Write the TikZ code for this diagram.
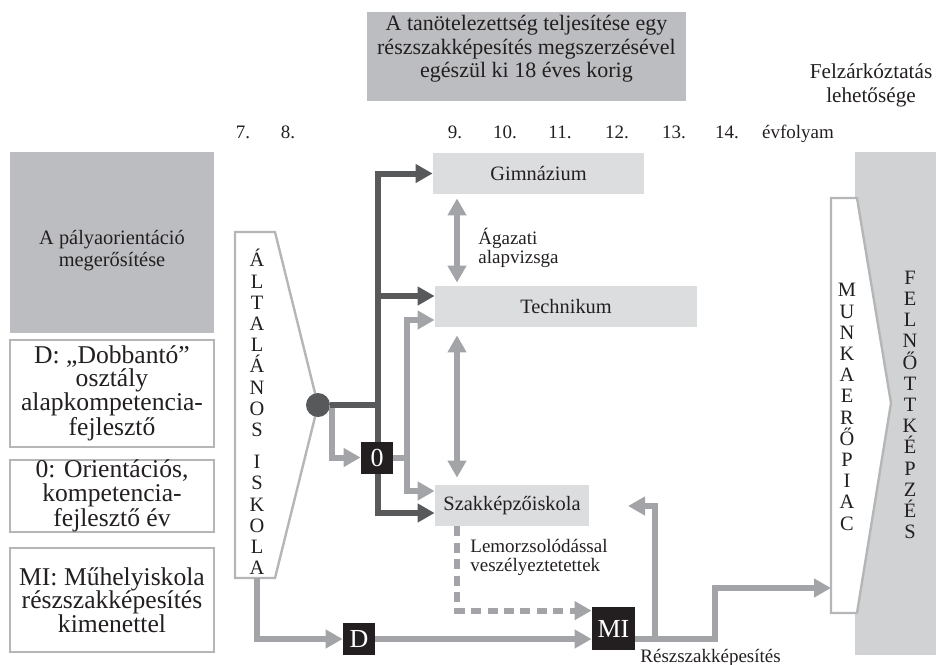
\documentclass[tikz,border=0pt]{standalone}
\usepackage{fontspec}
\setmainfont{Liberation Serif}
\usetikzlibrary{arrows.meta, positioning}

\definecolor{ink}{HTML}{231F20}
\definecolor{darkln}{HTML}{58595B}
\definecolor{lightln}{HTML}{A3A4A7}
\definecolor{boxfill}{HTML}{DCDDDF}
\definecolor{midfill}{HTML}{BCBDC0}
\definecolor{sidefill}{HTML}{D1D2D4}
\definecolor{rim}{HTML}{B5B6B8}

\begin{document}
\begin{tikzpicture}[x=0.5pt, y=-0.5pt,
    every node/.style={text=ink, font=\fontsize{10.2}{12}\selectfont},
    school/.style={fill=boxfill, minimum height=20.5pt, inner sep=0pt},
    keybox/.style={draw=rim, line width=1.2pt, fill=white, minimum width=102pt, inner sep=0pt, align=center, font=\fontsize{12.8}{11.7}\selectfont},
    blk/.style={fill=ink, text=white, inner sep=0pt, font=\fontsize{13}{13}\selectfont},
    vert/.style={align=center, inner sep=0pt, font=\fontsize{10.2}{10.6}\selectfont},
    note/.style={anchor=west, align=left, inner sep=0pt, font=\fontsize{9.5}{9.5}\selectfont},
    grade/.style={anchor=base, inner sep=0pt, font=\fontsize{9.5}{11}\selectfont},
    chevron/.style={draw=rim, line width=1.2pt, fill=white},
    dk/.style={draw=darkln, line width=3pt},
    gr/.style={draw=lightln, line width=3pt},
    arr/.style={-{Triangle[length=8.5pt, width=9pt]}},
    dbl/.style={{Triangle[length=8.5pt, width=9pt]}-{Triangle[length=8.5pt, width=9pt]}}
  ]
  \useasboundingbox (0,0) rectangle (936,664);

  % headings
  \fill[midfill] (367,12) rectangle (686,101);
  \node (goal) at (526.5,49) [align=center, font=\fontsize{11}{11.8}\selectfont]
    {A tanötelezettség teljesítése egy\\részszakképesítés megszerzésével\\egészül ki 18 éves korig};
  \node (catchup) at (871,85) [align=center, font=\fontsize{10.6}{12}\selectfont]
    {Felzárkóztatás\\lehetősége};
  \foreach \g/\x [count=\i] in {7./243, 8./288, 9./455, 10./505, 11./560, 12./617, 13./674, 14./727}
    \node (gr\i) [grade] at (\x,138) {\g};
  \node (grade) [grade] at (798,138) {évfolyam};

  % left column
  \fill[midfill] (10,152) rectangle (214,333);
  \node (orient) at (112,251) [align=center, font=\fontsize{10.2}{11}\selectfont]
    {A pályaorientáció\\megerősítése};
  \node (keyD) [keybox, minimum height=53.5pt] at (112,393.5) {D: „Dobbantó”\\osztály\\alapkompetencia-\\fejlesztő};
  \node (keyO) [keybox, minimum height=36pt] at (112,496) {0: Orientációs,\\kompetencia-\\fejlesztő év};
  \node (keyM) [keybox, minimum height=52pt] at (112,600) {MI: Műhelyiskola\\részszakképesítés\\kimenettel};

  % altalanos iskola
  \draw[chevron] (235,232) -- (275,232) -- (318,405) -- (275,578) -- (235,578) -- cycle;
  \node (alt) [vert] at (257,412) {Á\\L\\T\\A\\L\\Á\\N\\O\\S\\[5.5pt]I\\S\\K\\O\\L\\A};
  \coordinate (altbot) at (257,578);

  % right column
  \fill[sidefill] (855,152) rectangle (936,655);
  \draw[chevron] (831,198) -- (857,198) -- (891,403) -- (857,613) -- (831,613) -- cycle;
  \node (munka) [vert] at (847,407) {M\\U\\N\\K\\A\\E\\R\\Ő\\P\\I\\A\\C};
  \node (felnott) [vert] at (910,405) {F\\E\\L\\N\\Ő\\T\\T\\K\\É\\P\\Z\\É\\S};
  \coordinate (mkin) at (831,588);

  % schools
  \node (gim) [school, minimum width=105.5pt] at (538.5,173.5) {Gimnázium};
  \node (tech) [school, minimum width=131pt] at (566,306.5) {Technikum};
  \node (szak) [school, minimum width=77pt] at (512,505.5) {Szakképzőiskola};

  % dark tree
  \coordinate (kD) at (378,405);
  \coordinate (kT) at (378,296);
  \coordinate (kS) at (378,513);
  \draw[dk, arr] (kS) |- (gim.west);
  \draw[dk, arr] (kD) |- (szak.west |- kS);
  \draw[dk, arr] (kT) -- (kT -| tech.west);

  \node (zero) [blk, minimum size=16pt] at (377,457.5) {0};
  \node (dbox) [blk, minimum size=16pt] at (359,639) {D};
  \node (mi) [blk, minimum size=21.5pt] at (613.5,628.5) {MI};
  \node (dot) [circle, fill=darkln, minimum size=12pt, inner sep=0pt] at (318,405) {};

  \coordinate (gd) at (332,405);
  \draw[gr, arr] (gd) |- (zero.west);
  \draw[dk] (dot) -- (kD);

  % light connectors
  \coordinate (gT) at (407,320);
  \coordinate (gS) at (407,491);
  \coordinate (vx) at (457,0);
  \draw[gr] (zero.east) -- (zero.east -| gS);
  \draw[gr, arr] (gS) |- (tech.west |- gT);
  \draw[gr, arr] (gT) |- (szak.west |- gS);
  \draw[gr, dbl, shorten <=2pt, shorten >=1.5pt] (gim.south -| vx) -- (tech.north -| vx);
  \draw[gr, dbl, shorten <=4pt, shorten >=3.5pt] (tech.south -| vx) -- (szak.north -| vx);
  \node (exam) [note] at (478,247.5) {Ágazati\\alapvizsga};

  \draw[gr, arr, dash pattern=on 5pt off 3.2pt] (szak.south -| vx) |- ([yshift=-2pt]mi.north west);
  \node (dropout) [note] at (470,557.5) {Lemorzsolódással\\veszélyeztetettek};

  \draw[gr, arr] (altbot) |- (dbox.west);
  \draw[gr, arr] (dbox.east) -- (dbox.east -| mi.west);
  \coordinate (stp) at (715,588);
  \coordinate (upb) at (655,639);
  \coordinate (upt) at (628,506);
  \draw[gr, arr] (mi.east |- dbox) -| (stp) -- (mkin);
  \draw[gr, arr] (upb) |- (upt);
  \node (partial) [anchor=base west, inner sep=0pt, font=\fontsize{9.5}{11}\selectfont] at (640,662) {Részszakképesítés};
\end{tikzpicture}
\end{document}
